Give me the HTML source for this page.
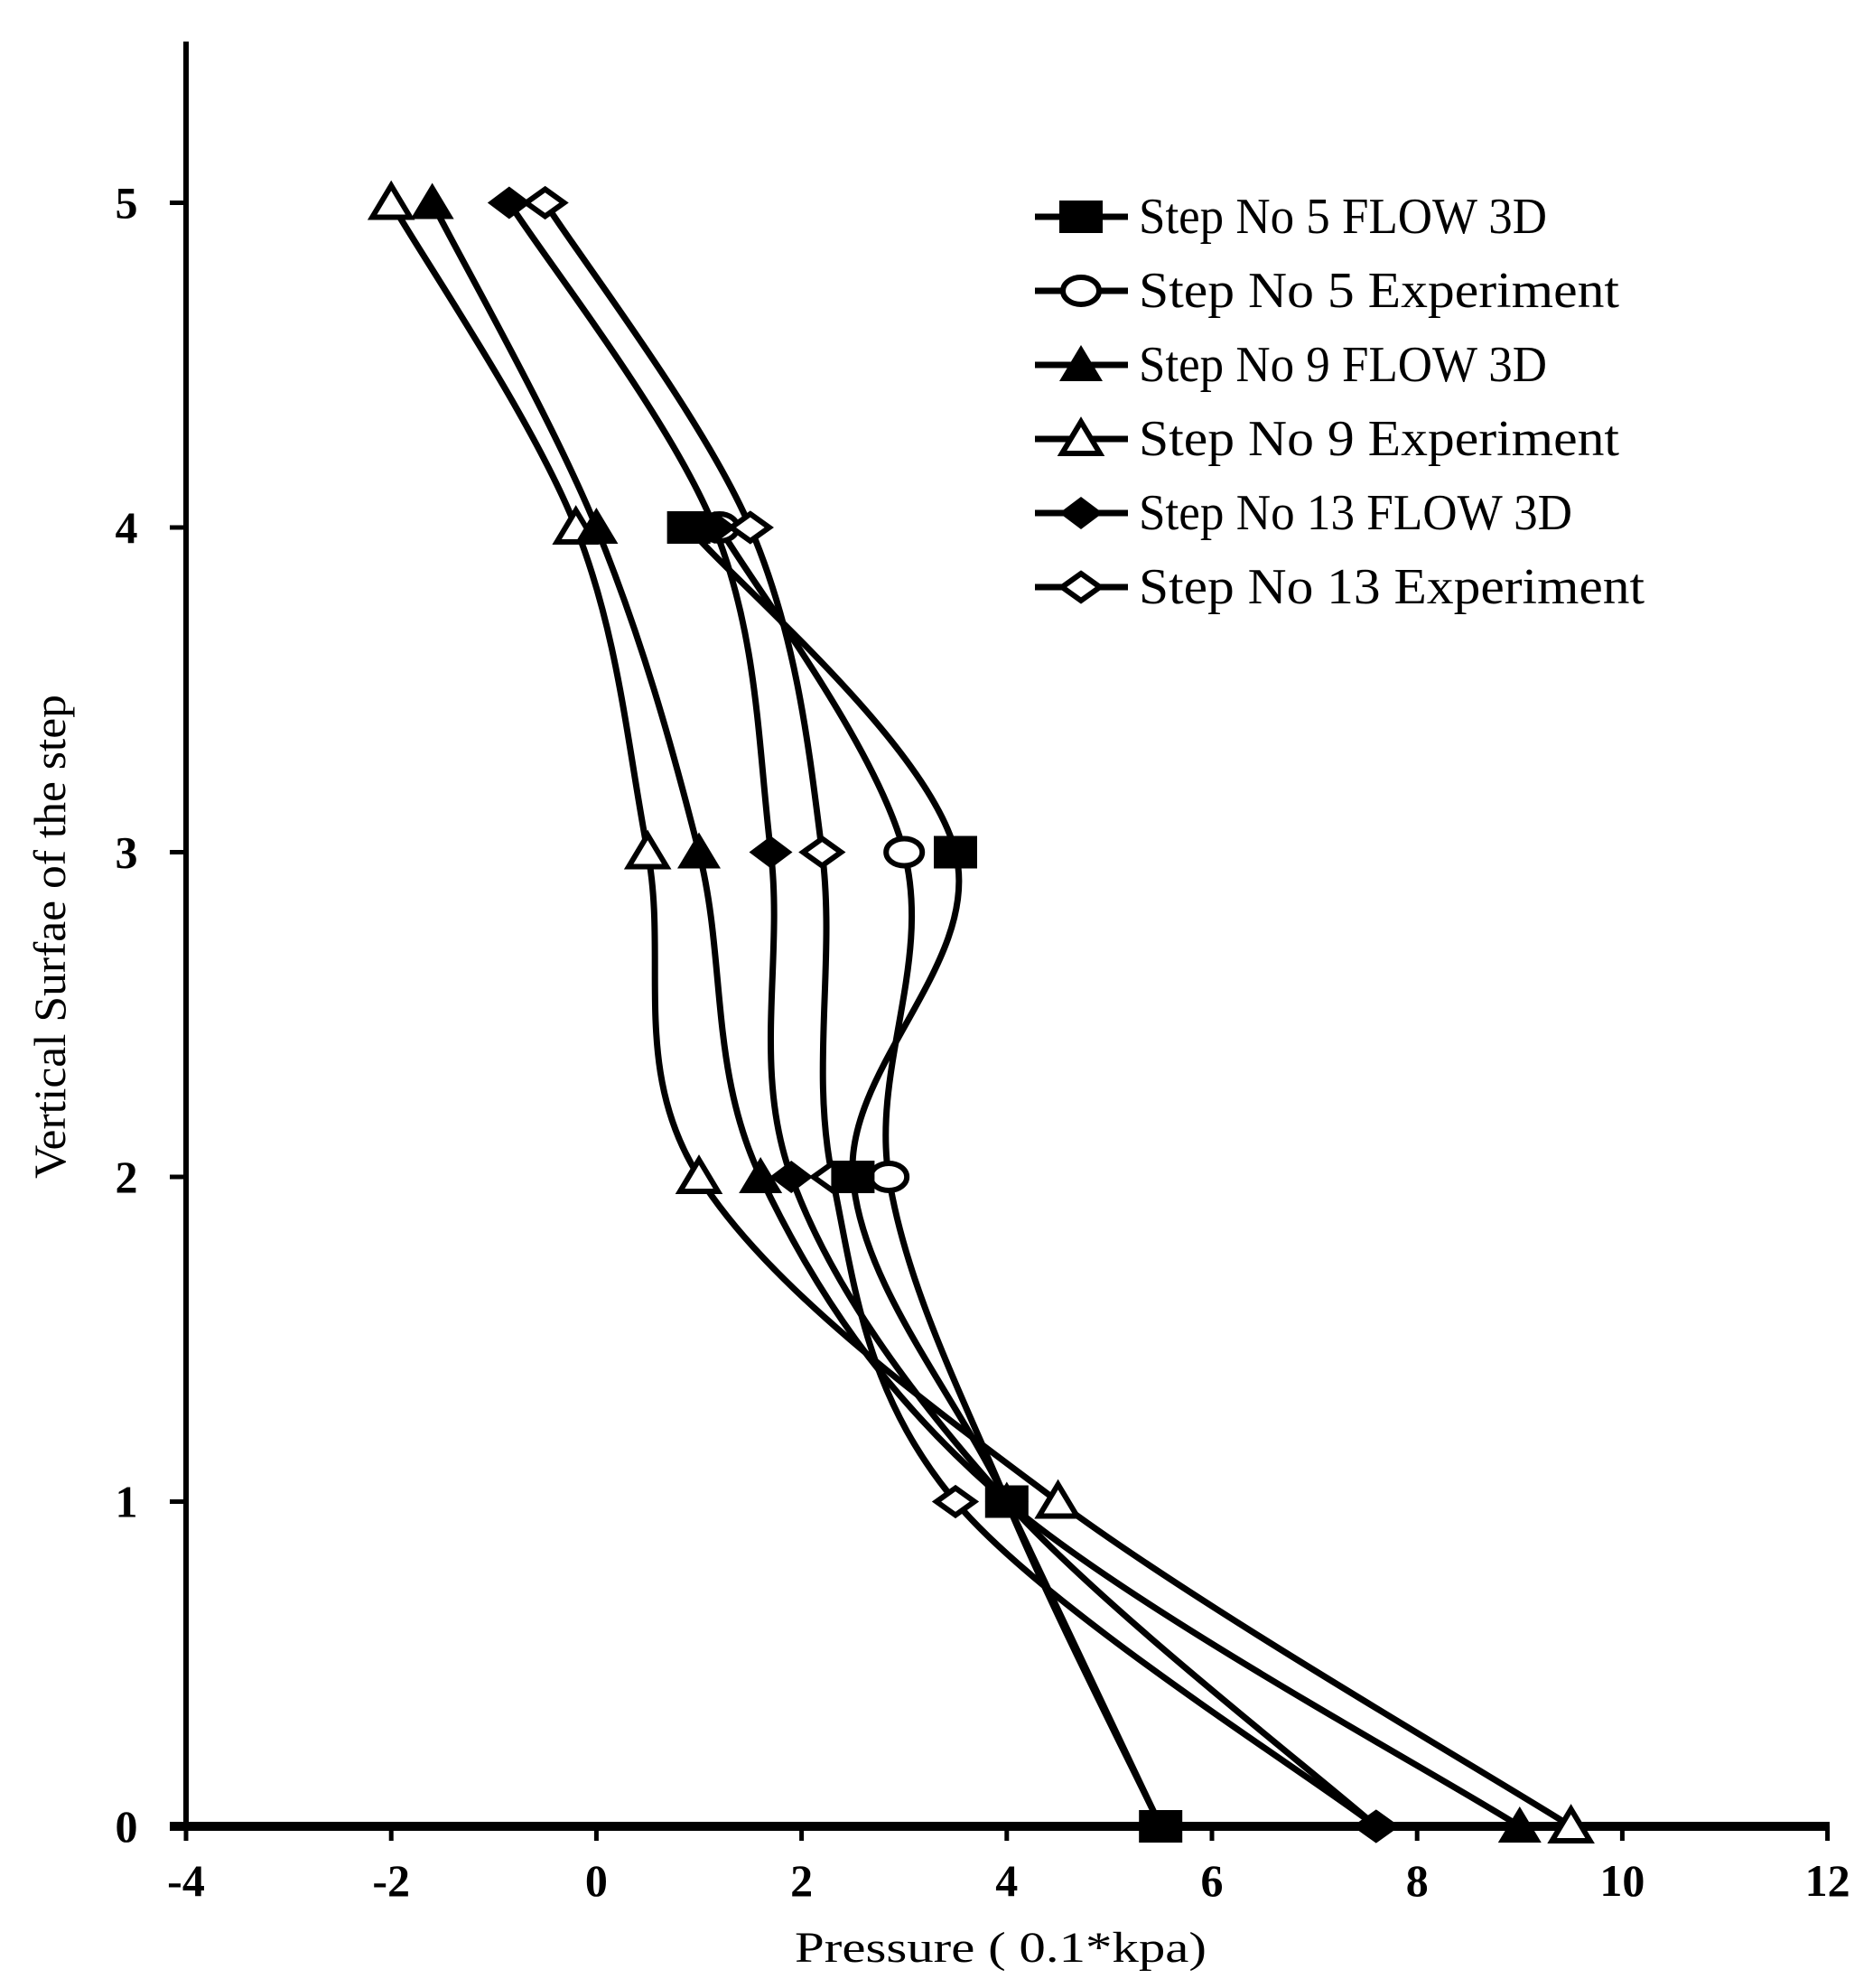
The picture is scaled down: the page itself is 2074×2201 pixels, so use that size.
<!DOCTYPE html>
<html><head><meta charset="utf-8"><style>
html,body{margin:0;padding:0;background:#fff;}
svg{display:block;}
</style></head><body>
<svg id="c" width="2074" height="2201" xmlns="http://www.w3.org/2000/svg">
<g font-family="Liberation Serif, serif" fill="#000">
<line x1="206" y1="46" x2="206" y2="2022" stroke="#000" stroke-width="6"/>
<line x1="188" y1="2022" x2="2026" y2="2022" stroke="#000" stroke-width="10"/>
<g id="ticks" stroke="#000" stroke-width="5"></g>
<g id="labels" font-weight="bold" font-size="50"></g>
<text x="1108" y="2172" font-size="48" text-anchor="middle" textLength="456" lengthAdjust="spacingAndGlyphs">Pressure ( 0.1*kpa)</text>
<text transform="translate(72,1037) rotate(-90)" font-size="50" text-anchor="middle" textLength="536" lengthAdjust="spacingAndGlyphs">Vertical Surfae of the step</text>
<g id="series"></g>
<g id="legend" font-size="56"></g>
</g>
</svg>
<script>
const NS="http://www.w3.org/2000/svg";
const X=v=>206+(v+4)*113.6, Y=v=>2022-v*359.5;
function el(t,a,p){const e=document.createElementNS(NS,t);for(const k in a)e.setAttribute(k,a[k]);p.appendChild(e);return e;}
const tk=document.getElementById('ticks'),lb=document.getElementById('labels');
for(let v=-4;v<=12;v+=2){el('line',{x1:X(v),y1:2022,x2:X(v),y2:2038},tk);const t=el('text',{x:X(v),y:2099,'text-anchor':'middle'},lb);t.textContent=v;}
for(let v=0;v<=5;v++){el('line',{x1:188,y1:Y(v),x2:206,y2:Y(v)},tk);const t=el('text',{x:140,y:Y(v)+17,'text-anchor':'middle'},lb);t.textContent=v;}
function marker(type,cx,cy,p){
 const w=24,h=18;
 if(type=='sq')el('rect',{x:cx-w,y:cy-h,width:2*w,height:2*h,fill:'#000'},p);
 else if(type=='ci')el('ellipse',{cx:cx,cy:cy,rx:w-4,ry:h-3,fill:'#fff',stroke:'#000','stroke-width':6},p);
 else if(type=='tf')el('polygon',{points:`${cx},${cy-22} ${cx+w},${cy+18} ${cx-w},${cy+18}`,fill:'#000'},p);
 else if(type=='to')el('polygon',{points:`${cx},${cy-19} ${cx+w-3},${cy+16} ${cx-w+3},${cy+16}`,fill:'#fff',stroke:'#000','stroke-width':6},p);
 else if(type=='df')el('polygon',{points:`${cx},${cy-h} ${cx+w},${cy} ${cx},${cy+h} ${cx-w},${cy}`,fill:'#000'},p);
 else if(type=='do')el('polygon',{points:`${cx},${cy-h+3} ${cx+w-3},${cy} ${cx},${cy+h-3} ${cx-w+3},${cy}`,fill:'#fff',stroke:'#000','stroke-width':6},p);
}
function path(pts){
 let d=`M${pts[0][0]},${pts[0][1]}`;
 for(let i=0;i<pts.length-1;i++){
  const p0=pts[Math.max(i-1,0)],p1=pts[i],p2=pts[i+1],p3=pts[Math.min(i+2,pts.length-1)];
  const t=1/6;
  d+=` C${p1[0]+(p2[0]-p0[0])*t},${p1[1]+(p2[1]-p0[1])*t} ${p2[0]-(p3[0]-p1[0])*t},${p2[1]-(p3[1]-p1[1])*t} ${p2[0]},${p2[1]}`;
 }
 return d;
}
const S=[
 ['sq',[[5.5,0],[4,1],[2.5,2],[3.5,3],[0.9,4]]],
 ['ci',[[5.5,0],[4,1],[2.85,2],[3.0,3],[1.2,4]]],
 ['tf',[[9,0],[4,1],[1.6,2],[1,3],[0,4],[-1.6,5]]],
 ['to',[[9.5,0],[4.5,1],[1,2],[0.5,3],[-0.2,4],[-2,5]]],
 ['df',[[7.6,0],[4,1],[1.9,2],[1.7,3],[1.15,4],[-0.85,5]]],
 ['do',[[7.6,0],[3.5,1],[2.3,2],[2.2,3],[1.5,4],[-0.5,5]]]
];
const sg=document.getElementById('series');
S.forEach(s=>{const pts=s[1].map(p=>[X(p[0]),Y(p[1])]);el('path',{d:path(pts),fill:'none',stroke:'#000','stroke-width':7},sg);});
[1,3,5,0,2,4].forEach(i=>{const s=S[i];s[1].forEach(p=>marker(s[0],X(p[0]),Y(p[1]),sg));});
const lg=document.getElementById('legend');
const names=['Step No 5 FLOW 3D','Step No 5 Experiment','Step No 9 FLOW 3D','Step No 9 Experiment','Step No 13 FLOW 3D','Step No 13 Experiment'];
const lens=[452,532,452,532,480,560];
names.forEach((n,i)=>{const y=240+i*82;
 el('line',{x1:1146,y1:y,x2:1249,y2:y,stroke:'#000','stroke-width':7},lg);
 marker(S[i][0],1197,y,lg);
 const t=el('text',{x:1261,y:y+18,textLength:lens[i],lengthAdjust:'spacingAndGlyphs'},lg);t.textContent=n;});
</script>
</body></html>
